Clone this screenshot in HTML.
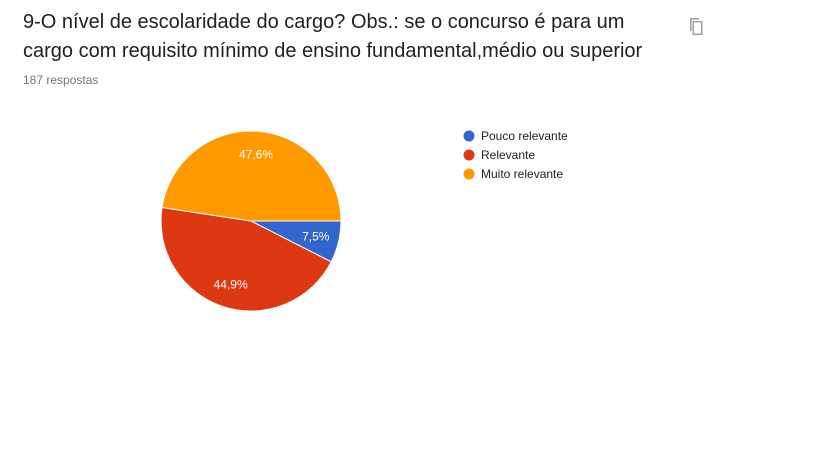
<!DOCTYPE html>
<html><head><meta charset="utf-8"><style>
html,body{margin:0;padding:0;background:#fff;width:819px;height:460px;overflow:hidden;font-family:"Liberation Sans",Arial,sans-serif}
.title{position:absolute;left:23px;top:8px;font-size:20px;line-height:29px;color:#212121;width:640px}
.sub{position:absolute;left:23px;top:73px;font-size:12px;color:#757575}
</style></head><body>
<div class="title">9-O nível de escolaridade do cargo? Obs.: se o concurso é para um cargo com requisito mínimo de ensino fundamental,médio ou superior</div>
<div class="sub">187 respostas</div>
<svg style="position:absolute;left:686px;top:17px" width="18" height="20" viewBox="0 0 18 20">
<path d="M4 1h9v1.5H5.5V14H4z" fill="#9e9e9e"/><rect x="7.2" y="4.7" width="8.6" height="12.6" fill="none" stroke="#9e9e9e" stroke-width="1.5"/></svg>
<svg id="chart" width="819" height="460" style="position:absolute;left:0;top:0"></svg>
<script>
const categories=["Pouco relevante","Relevante","Muito relevante"];
const values=[7.5,44.9,47.6];
const colors=["#3366cc","#dc3912","#ff9900"];
const svg=document.getElementById('chart');
const NS="http://www.w3.org/2000/svg";
const cx=251,cy=221,r=90;
const total=values.reduce((a,b)=>a+b,0);
let a0=0;
values.forEach((v,i)=>{
  const a1=a0+v/total*2*Math.PI;
  const x0=cx+r*Math.cos(a0),y0=cy+r*Math.sin(a0),x1=cx+r*Math.cos(a1),y1=cy+r*Math.sin(a1);
  const p=document.createElementNS(NS,'path');
  p.setAttribute('d',`M${cx},${cy}L${x0},${y0}A${r},${r} 0 ${a1-a0>Math.PI?1:0} 1 ${x1},${y1}Z`);
  p.setAttribute('fill',colors[i]);p.setAttribute('stroke','#fff');p.setAttribute('stroke-width','1');
  
  
  svg.appendChild(p);
  const am=(a0+a1)/2, lr=r*0.74;
  const t=document.createElementNS(NS,'text');
  t.setAttribute('x',cx+lr*Math.cos(am));t.setAttribute('y',cy+lr*Math.sin(am)+4);
  t.setAttribute('text-anchor','middle');t.setAttribute('fill','#fff');t.setAttribute('font-size','12');
  t.setAttribute('font-family','Liberation Sans, Arial, sans-serif');
  t.textContent=v.toFixed(1).replace('.',',')+'%';
  
  
  svg.appendChild(t);
  const c=document.createElementNS(NS,'circle');
  c.setAttribute('cx',469);c.setAttribute('cy',136+i*19);c.setAttribute('r',5.5);c.setAttribute('fill',colors[i]);
  
  
  svg.appendChild(c);
  const lt=document.createElementNS(NS,'text');
  lt.setAttribute('x',481);lt.setAttribute('y',140+i*19);lt.setAttribute('font-size','12');lt.setAttribute('fill','#222');
  lt.setAttribute('font-family','Liberation Sans, Arial, sans-serif');
  lt.textContent=categories[i];
  
  
  svg.appendChild(lt);
  a0=a1;
});
</script>
</body></html>
